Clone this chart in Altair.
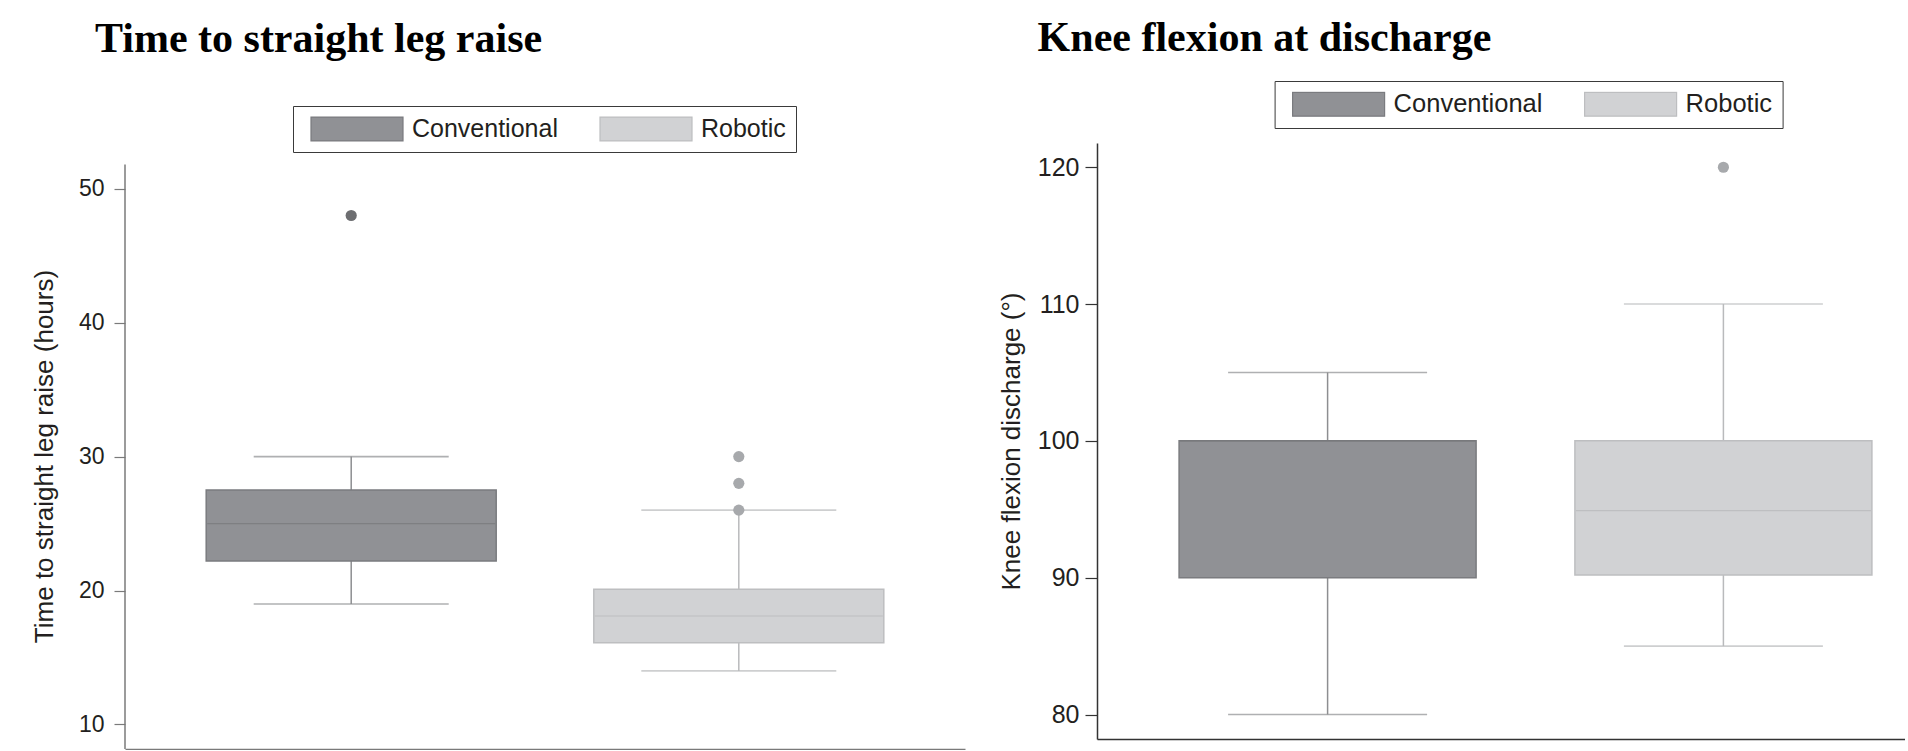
import altair as alt
import pandas as pd

# ---------------- data ----------------
groups = ["Conventional", "Robotic"]

# Time to straight leg raise (hours)
slr_lower = [19, 14]
slr_q1 = [22.2, 16.1]
slr_median = [25, 18.1]
slr_q3 = [27.5, 20.1]
slr_upper = [30, 26]
slr_out_group = ["Conventional", "Robotic", "Robotic", "Robotic"]
slr_out_value = [48, 26, 28, 30]
slr_axis_extent = [8.17, 51.8]

# Knee flexion at discharge (degrees)
knee_lower = [80, 85]
knee_q1 = [90, 90.2]
knee_median = [100, 94.9]
knee_q3 = [100, 100]
knee_upper = [105, 110]
knee_out_group = ["Robotic"]
knee_out_value = [120]

# ---------------- styles ----------------
box_fill = ["#909195", "#d1d2d4"]
box_stroke = ["#7a7b7f", "#bdbec0"]
whisker_col = {"Conventional": "#8d8e91", "Robotic": "#b9babc"}
median_col = {"Conventional": "#76777b", "Robotic": "#b6b7b9"}
outlier_col = {"Conventional": "#6d6e71", "Robotic": "#a7a9ac"}

SANS = "Liberation Sans"
SERIF = "Liberation Serif"


def panel(title, ytitle, lower, q1, med, q3, upper, og, ov, *, width, height,
          ydomain, yvalues, pad_inner, pad_outer, align, box_w, cap_w,
          axis_col, tick_size, label_pad, title_pad, label_size, title_size,
          legend_x, legend_y, title_offset, title_dy, title_dx, legend_size,
          axis_extent=None, ytitle_y=None):
    stats = pd.DataFrame({"group": groups, "lower": lower, "q1": q1,
                          "median": med, "q3": q3, "upper": upper})
    outl = pd.DataFrame({"group": og, "value": ov})

    xenc = alt.X("group:N", title=None,
                 scale=alt.Scale(domain=groups, paddingInner=pad_inner,
                                 paddingOuter=pad_outer, align=align),
                 axis=alt.Axis(labels=False, ticks=False, domainColor=axis_col,
                               domainWidth=1.5, grid=False))
    yscale = alt.Scale(domain=ydomain, nice=False, zero=False)
    axis_kw = dict(values=yvalues, grid=False, tickSize=tick_size,
                   tickColor=axis_col, tickWidth=1.2, domainColor=axis_col,
                   domainWidth=1.5, domain=axis_extent is None,
                   labelPadding=label_pad,
                   labelFont=SANS, labelFontSize=label_size,
                   labelColor="#231f20", titleFont=SANS,
                   titleFontSize=title_size, titleFontWeight="normal",
                   titleColor="#231f20", titlePadding=title_pad)
    if ytitle_y is not None:
        axis_kw["titleY"] = ytitle_y
    yaxis = alt.Axis(**axis_kw)

    def Y(field):
        return alt.Y(field, scale=yscale, axis=yaxis, title=ytitle)

    base = alt.Chart(stats)
    layers = []
    legend = alt.Legend(title=None, orient="none", legendX=legend_x,
                        legendY=legend_y, direction="horizontal", columns=2,
                        strokeColor="#3a3a3a", fillColor="white", padding=10,
                        symbolType="M-1,-0.26H1V0.26H-1Z",
                        symbolSize=8464, symbolStrokeWidth=1.2,
                        symbolOffset=7, clipHeight=26, labelOffset=8,
                        columnPadding=34, labelFont=SANS,
                        labelFontSize=legend_size, labelColor="#231f20")
    if axis_extent is not None:
        layers.append(alt.Chart(pd.DataFrame({"lo": [axis_extent[0]],
                                              "hi": [axis_extent[1]]}))
                      .mark_rule(color=axis_col, strokeWidth=1.5)
                      .encode(x=alt.value(0), y=Y("lo:Q"), y2="hi:Q"))
    for g in groups:
        sub = base.transform_filter(alt.datum.group == g)
        layers.append(sub.mark_rule(color=whisker_col[g], strokeWidth=1.5).encode(
            x=xenc, y=Y("lower:Q"), y2="q1:Q"))
        layers.append(sub.mark_rule(color=whisker_col[g], strokeWidth=1.5).encode(
            x=xenc, y=Y("q3:Q"), y2="upper:Q"))
        layers.append(sub.mark_tick(color=whisker_col[g], size=cap_w, thickness=1.6).encode(
            x=xenc, y=Y("lower:Q")))
        layers.append(sub.mark_tick(color=whisker_col[g], size=cap_w, thickness=1.6).encode(
            x=xenc, y=Y("upper:Q")))
    layers.append(base.mark_bar(size=box_w, strokeWidth=1.5).encode(
        x=xenc, y=Y("q1:Q"), y2="q3:Q",
        fill=alt.Fill("group:N", scale=alt.Scale(domain=groups, range=box_fill),
                      legend=legend),
        stroke=alt.Stroke("group:N", scale=alt.Scale(domain=groups, range=box_stroke),
                          legend=legend)))
    for g in groups:
        sub = base.transform_filter(alt.datum.group == g)
        layers.append(sub.mark_tick(color=median_col[g], size=box_w - 2, thickness=1.2).encode(
            x=xenc, y=Y("median:Q")))
        layers.append(alt.Chart(outl).transform_filter(alt.datum.group == g)
                      .mark_circle(color=outlier_col[g], size=125, opacity=1).encode(
            x=xenc, y=Y("value:Q")))

    return alt.layer(*layers).properties(
        width=width, height=height,
        title=alt.TitleParams(title, font=SERIF, fontSize=42, fontWeight="bold",
                              color="black", anchor="start", frame="group",
                              baseline="alphabetic", offset=title_offset,
                              dx=title_dx, dy=title_dy),
    )


left = panel("Time to straight leg raise", "Time to straight leg raise (hours)",
             slr_lower, slr_q1, slr_median, slr_q3, slr_upper,
             slr_out_group, slr_out_value,
             width=840, height=606, ydomain=[8.17, 53.41],
             yvalues=[10, 20, 30, 40, 50], pad_inner=0, pad_outer=0.0836,
             align=0.5, box_w=290, cap_w=195, axis_col="#7a7a7a",
             tick_size=11, label_pad=10, title_pad=21, label_size=23,
             title_size=26, legend_x=168, legend_y=-37, title_offset=12,
             title_dy=0, title_dx=-30, legend_size=25,
             axis_extent=slr_axis_extent, ytitle_y=313)

right = panel("Knee flexion at discharge", "Knee flexion discharge (°)",
              knee_lower, knee_q1, knee_median, knee_q3, knee_upper,
              knee_out_group, knee_out_value,
              width=808, height=596, ydomain=[78.21, 121.77],
              yvalues=[80, 90, 100, 110, 120], pad_inner=0.0824,
              pad_outer=0.0619, align=1, box_w=297, cap_w=199,
              axis_col="#333333", tick_size=12, label_pad=6, title_pad=13,
              label_size=25, title_size=26, legend_x=177.6, legend_y=-62,
              title_offset=0, title_dy=12, title_dx=-59.4, legend_size=25.5)

chart = alt.hconcat(left, right, spacing=33).resolve_scale(
    fill="independent", stroke="independent", x="independent", y="independent"
).resolve_legend(fill="independent", stroke="independent").properties(
    padding={"left": 31, "top": 16, "right": 0, "bottom": 0},
    background="white",
).configure_view(stroke=None)

chart.save("out.html", embed_options={"renderer": "svg", "actions": False})
